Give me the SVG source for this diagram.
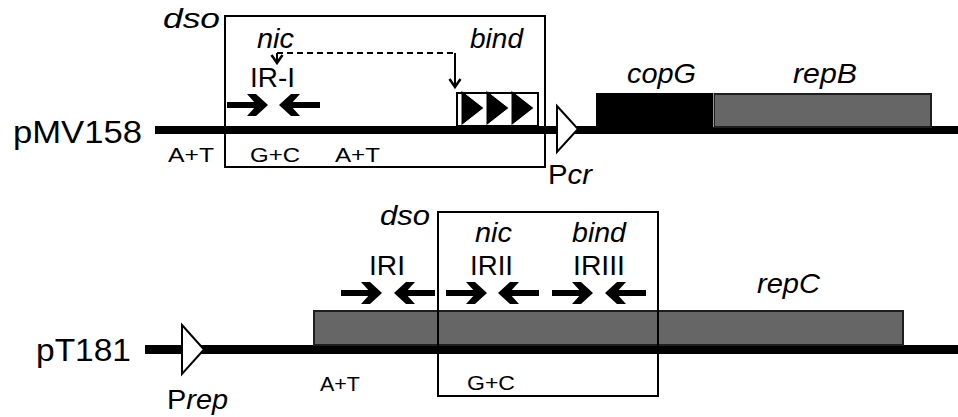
<svg xmlns="http://www.w3.org/2000/svg" xmlns:xlink="http://www.w3.org/1999/xlink" width="958" height="417" viewBox="0 0 958 417">
  <style>
    text { font-family: "Liberation Sans", Arial, sans-serif; fill: #000; }
    .it { font-style: italic; }
    .lab { font-size: 28px; }
    .ir { font-size: 27px; }
    .big { font-size: 31px; }
    .sm { font-size: 21px; }
    .box { fill: none; stroke: #000; stroke-width: 2; }
    .dna { stroke: #000; fill: none; }
    .gene { fill: #666; stroke: #1e1e1e; stroke-width: 2; }
    .prom { fill: #fff; stroke: #000; stroke-width: 2; stroke-linejoin: miter; }
    .conn { fill: none; stroke: #000; stroke-width: 2; }
  </style>
  <defs>
    <!-- inverted-repeat arms: thick shaft with a chevron head; origin at the tip -->
    <g id="armR">
      <rect x="-41" y="-3" width="32" height="6"/>
      <path d="M0,0 L-12,-11 L-21,-11 L-11,0 L-21,11 L-12,11 Z"/>
    </g>
    <g id="armL">
      <rect x="9" y="-3" width="32" height="6"/>
      <path d="M0,0 L12,-11 L21,-11 L11,0 L21,11 L12,11 Z"/>
    </g>
    <marker id="vhead" viewBox="-1 -7 11 14" refX="8" refY="0" markerWidth="11" markerHeight="14" markerUnits="userSpaceOnUse" orient="auto">
      <path d="M0,-5.5 L8,0 L0,5.5" fill="none" stroke="#000" stroke-width="2.5"/>
    </marker>
  </defs>

  <!-- ===== pMV158 ===== -->
  <g id="pMV158">
    <text class="big" x="13" y="143" textLength="129" lengthAdjust="spacingAndGlyphs">pMV158</text>
    <line class="dna" x1="155" y1="130" x2="958" y2="130" stroke-width="8"/>
    <text class="sm" x="168" y="162" textLength="46" lengthAdjust="spacingAndGlyphs">A+T</text>
  </g>

  <g id="pMV158-dso">
    <rect class="box" x="225" y="16" width="320" height="151"/>
    <text class="lab it" x="163" y="28" textLength="57" lengthAdjust="spacingAndGlyphs">dso</text>
    <text class="lab it" x="257" y="48" textLength="37" lengthAdjust="spacingAndGlyphs">nic</text>
    <text class="lab it" x="470" y="48" textLength="53" lengthAdjust="spacingAndGlyphs">bind</text>
    <text class="ir" x="250" y="87" textLength="45" lengthAdjust="spacingAndGlyphs">IR-I</text>
    <use xlink:href="#armR" x="268" y="105"/>
    <use xlink:href="#armL" x="279" y="105"/>
    <text class="sm" x="250" y="162" textLength="50" lengthAdjust="spacingAndGlyphs">G+C</text>
    <text class="sm" x="335" y="162" textLength="45" lengthAdjust="spacingAndGlyphs">A+T</text>
  </g>

  <g id="pMV158-bind">
    <polygon points="461,90 484,108 461,126" fill="#000" stroke="#fff" stroke-width="1"/>
    <polygon points="486,90 509,108 486,126" fill="#000" stroke="#fff" stroke-width="1"/>
    <polygon points="511,90 534,108 511,126" fill="#000" stroke="#fff" stroke-width="1"/>
    <rect class="box" x="457" y="93" width="81" height="33"/>
  </g>

  <g id="Pcr">
    <polygon class="prom" points="557,106 578,129 557,152"/>
    <text class="lab" x="548" y="184" textLength="44" lengthAdjust="spacingAndGlyphs">P<tspan class="it">cr</tspan></text>
  </g>

  <g id="copG">
    <rect x="596" y="93" width="117" height="34" fill="#000"/>
    <text class="lab it" x="627" y="83" textLength="69" lengthAdjust="spacingAndGlyphs">copG</text>
  </g>

  <g id="repB">
    <rect class="gene" x="714" y="94" width="217" height="33"/>
    <line x1="713.5" y1="93" x2="713.5" y2="127" stroke="#999" stroke-width="1"/>
    <text class="lab it" x="793" y="83" textLength="64" lengthAdjust="spacingAndGlyphs">repB</text>
  </g>

  <!-- ===== pT181 ===== -->
  <g id="pT181">
    <text class="big" x="36" y="361" textLength="95" lengthAdjust="spacingAndGlyphs">pT181</text>
    <line class="dna" x1="145" y1="349.5" x2="958" y2="349.5" stroke-width="9"/>
    <text class="sm" x="320" y="391" textLength="40" lengthAdjust="spacingAndGlyphs">A+T</text>
  </g>

  <g id="Prep">
    <polygon class="prom" points="182,325 204,349.5 182,374"/>
    <text class="lab" x="167" y="409" textLength="61" lengthAdjust="spacingAndGlyphs">P<tspan class="it">rep</tspan></text>
  </g>

  <g id="repC">
    <rect class="gene" x="314" y="311" width="589" height="34"/>
    <text class="lab it" x="757" y="293" textLength="63" lengthAdjust="spacingAndGlyphs">repC</text>
  </g>

  <g id="IRI">
    <text class="ir" x="369" y="275" textLength="36" lengthAdjust="spacingAndGlyphs">IRI</text>
    <use xlink:href="#armR" x="382" y="293"/>
    <use xlink:href="#armL" x="394" y="293"/>
  </g>

  <g id="pT181-dso">
    <rect class="box" x="438" y="212" width="220" height="184"/>
    <text class="lab it" x="380" y="225" textLength="50" lengthAdjust="spacingAndGlyphs">dso</text>
    <text class="lab it" x="475" y="242" textLength="37" lengthAdjust="spacingAndGlyphs">nic</text>
    <text class="ir" x="470" y="275" textLength="43" lengthAdjust="spacingAndGlyphs">IRII</text>
    <use xlink:href="#armR" x="487" y="293"/>
    <use xlink:href="#armL" x="498" y="293"/>
    <text class="lab it" x="572" y="242" textLength="54" lengthAdjust="spacingAndGlyphs">bind</text>
    <text class="ir" x="573" y="275" textLength="52" lengthAdjust="spacingAndGlyphs">IRIII</text>
    <use xlink:href="#armR" x="593" y="293"/>
    <use xlink:href="#armL" x="605" y="293"/>
    <text class="sm" x="467" y="390" textLength="48" lengthAdjust="spacingAndGlyphs">G+C</text>
  </g>

  <!-- nick site to binding site link -->
  <g id="connectors">
    <path class="conn" d="M277,53 H455" stroke-dasharray="6,4"/>
    <path class="conn" d="M277,53 V63" marker-end="url(#vhead)"/>
    <path class="conn" d="M455,53 V87" marker-end="url(#vhead)"/>
  </g>
</svg>
